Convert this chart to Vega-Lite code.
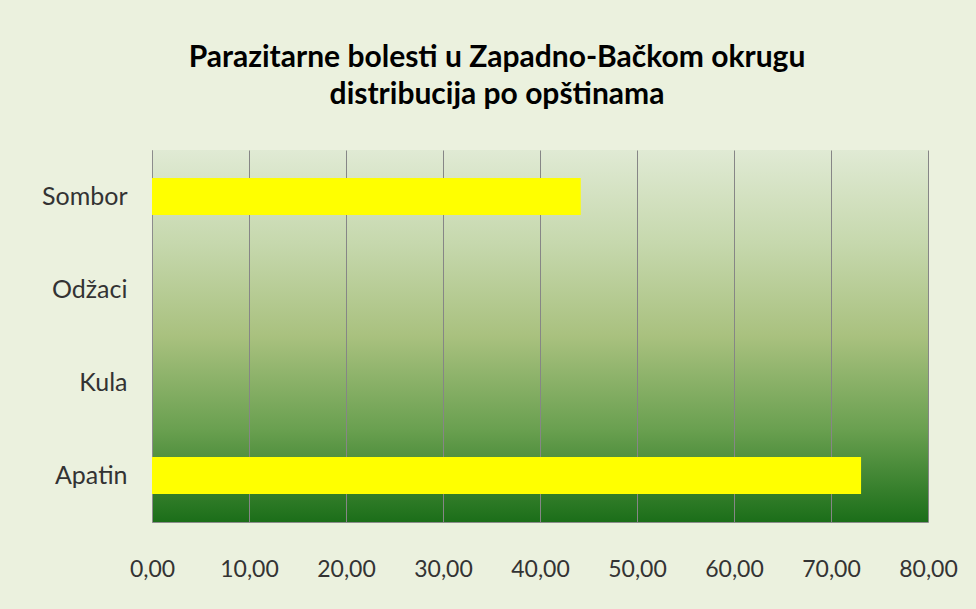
{
  "$schema": "https://vega.github.io/schema/vega-lite/v6.json",
  "width": 776,
  "height": 372,
  "autosize": {"type": "none"},
  "padding": {"left": 152, "top": 150, "right": 48, "bottom": 87},
  "background": "#ebf1de",
  "title": {
    "text": ["Parazitarne  bolesti u Zapadno-Bačkom okrugu", "distribucija po opštinama"],
    "font": "Lato",
    "fontSize": 30,
    "fontWeight": "bold",
    "color": "#000000",
    "anchor": "middle",
    "dx": -43,
    "offset": 40,
    "lineHeight": 37
  },
  "view": {
    "stroke": null,
    "fill": {
      "gradient": "linear",
      "x1": 0, "y1": 0, "x2": 0, "y2": 1,
      "stops": [
        {"offset": 0, "color": "#e0ead4"},
        {"offset": 0.25, "color": "#c6d8ad"},
        {"offset": 0.5, "color": "#a9c17f"},
        {"offset": 0.75, "color": "#6aa050"},
        {"offset": 1, "color": "#1b6e19"}
      ]
    }
  },
  "data": {
    "values": [
      {"opstina": "Sombor", "vrednost": 44.2},
      {"opstina": "Odžaci", "vrednost": 0},
      {"opstina": "Kula", "vrednost": 0},
      {"opstina": "Apatin", "vrednost": 73.1}
    ]
  },
  "mark": {"type": "bar", "color": "#ffff00"},
  "encoding": {
    "y": {
      "field": "opstina",
      "type": "nominal",
      "sort": ["Sombor", "Odžaci", "Kula", "Apatin"],
      "scale": {"paddingInner": 0.6, "paddingOuter": 0.3},
      "axis": {
        "title": null,
        "ticks": false,
        "domain": true,
        "domainColor": "#8c8c8c",
        "labelFont": "Lato",
        "labelFontSize": 25,
        "labelColor": "#333333",
        "labelPadding": 25
      }
    },
    "x": {
      "field": "vrednost",
      "type": "quantitative",
      "scale": {"domain": [0, 80], "nice": false},
      "axis": {
        "title": null,
        "values": [0, 10, 20, 30, 40, 50, 60, 70, 80],
        "labelExpr": "replace(format(datum.value, '.2f'), '.', ',')",
        "labelFlush": false,
        "ticks": false,
        "grid": true,
        "gridColor": "#868686",
        "gridOpacity": 1,
        "domainColor": "#8c8c8c",
        "labelFont": "Lato",
        "labelFontSize": 23,
        "labelColor": "#333333",
        "labelPadding": 36
      }
    }
  }
}
